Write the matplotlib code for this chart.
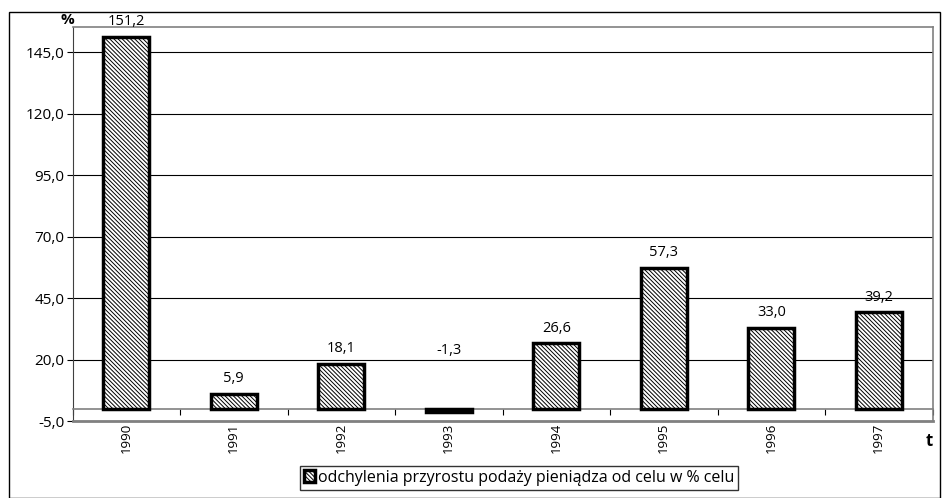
import matplotlib.pyplot as plt
import matplotlib.patches as mpatches
import numpy as np

plt.rcParams['font.family'] = ['Open Sans', 'DejaVu Sans']
plt.rcParams['hatch.linewidth'] = 0.7

years = ['1990', '1991', '1992', '1993', '1994', '1995', '1996', '1997']
values = [151.2, 5.9, 18.1, -1.3, 26.6, 57.3, 33.0, 39.2]
yticks = [-5, 20, 45, 70, 95, 120, 145]
legend_label = 'odchylenia przyrostu podaży pieniądza od celu w % celu'


def pl(v):
    return ('%.1f' % v).replace('.', ',')


fig = plt.figure(figsize=(9.43, 4.98), dpi=100)
ax = fig.add_axes([0.0769, 0.1546, 0.912, 0.7912])
ax.set_axisbelow(True)

x = np.arange(len(years))
bars = ax.bar(x, values, width=0.43, color='white', edgecolor='black',
              linewidth=2.5, hatch='\\' * 8, label=legend_label, zorder=3)

for xi, v in zip(x, values):
    off = 11 if v >= 0 else 42
    ax.annotate(pl(v), (xi, max(v, 0)), xytext=(0, off), textcoords='offset points',
                ha='center', va='center', fontsize=10.5)

ax.set_xlim(-0.5, len(years) - 0.5)
ax.set_ylim(-5, 155.2)
ax.set_yticks(yticks)
ax.set_yticklabels([pl(t) for t in yticks], fontsize=11)
ax.yaxis.grid(True, color='black', linewidth=0.8)
ax.tick_params(axis='y', length=4, color='black', pad=2)

# x axis at zero, labels below the plot area
ax.spines['bottom'].set_position(('data', 0))
ax.spines['bottom'].set_color('#808080')
ax.spines['bottom'].set_linewidth(1.2)
ax.set_xticks(np.arange(len(years) + 1) - 0.5)
ax.set_xticklabels([])
ax.tick_params(axis='x', direction='out', length=4, color='black')
for s in ['top', 'right']:
    ax.spines[s].set_color('#808080')
    ax.spines[s].set_linewidth(1.2)
ax.spines['left'].set_color('#404040')
ax.axhline(-5, color='#808080', linewidth=2, zorder=4, clip_on=False)

for xi, yr in zip(x, years):
    ax.text(xi, -0.005, yr, transform=ax.get_xaxis_transform(), rotation=90,
            ha='center', va='top', fontsize=9.5)

fig.text(0.071, 0.96, '%', ha='center', va='center', fontsize=11, fontweight='bold')
fig.text(0.985, 0.115, 't', ha='center', va='center', fontsize=12, fontweight='bold')

fig.legend(loc='center', bbox_to_anchor=(0.5504, 0.041), fontsize=11.5, frameon=True,
           fancybox=False, edgecolor='black', handlelength=0.7, handleheight=0.7,
           handletextpad=0.2, borderpad=0.25, borderaxespad=0)

fig.patches.append(mpatches.Rectangle((9 / 943, 0.5 / 498), 931 / 943, 485.5 / 498,
                                      transform=fig.transFigure, fill=False,
                                      edgecolor='black', linewidth=1))

fig.savefig('out.png', dpi=100)
